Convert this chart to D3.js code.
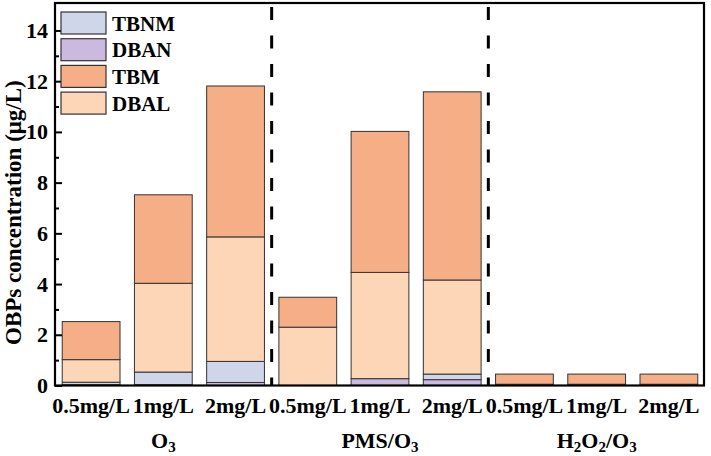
<!DOCTYPE html>
<html>
<head>
<meta charset="utf-8">
<script src="https://cdn.jsdelivr.net/npm/d3@7"></script>
<style>
  html, body { margin: 0; padding: 0; background: #fff; }
  svg { display: block; }
  text { font-family: "Liberation Serif", "Times New Roman", serif; font-weight: bold; fill: #000; }
</style>
</head>
<body>
<svg id="chart" width="711" height="456"></svg>
<script>
// ---- data ----
const categories = ["0.5mg/L", "1mg/L", "2mg/L", "0.5mg/L", "1mg/L", "2mg/L", "0.5mg/L", "1mg/L", "2mg/L"];
const groups = [
  [["O", ""], ["3", "sub"]],
  [["PMS/O", ""], ["3", "sub"]],
  [["H", ""], ["2", "sub"], ["O", ""], ["2", "sub"], ["/O", ""], ["3", "sub"]]
];
const seriesKeys = ["DBAN", "TBNM", "DBAL", "TBM"]; // bottom to top
const DBAN = [0.03, 0.03, 0.12, 0, 0.27, 0.23, 0, 0, 0];
const TBNM = [0.10, 0.50, 0.83, 0, 0, 0.22, 0, 0, 0];
const DBAL = [0.89, 3.50, 4.91, 2.30, 4.19, 3.71, 0.05, 0.05, 0.05];
const TBM  = [1.50, 3.49, 5.95, 1.18, 5.56, 7.42, 0.40, 0.40, 0.40];
const legendOrder = ["TBNM", "DBAN", "TBM", "DBAL"];
const yTicks = [0, 2, 4, 6, 8, 10, 12, 14];
const yMinorTicks = [1, 3, 5, 7, 9, 11, 13];

const colors = { TBNM: "#cfd6e9", DBAN: "#cbb9e0", TBM: "#f5ae86", DBAL: "#fdd6b7" };
const valuesByKey = { DBAN, TBNM, DBAL, TBM };

const table = categories.map((c, i) => {
  const row = { idx: i };
  seriesKeys.forEach(k => row[k] = valuesByKey[k][i]);
  return row;
});

// ---- layout ----
const L = 55, R = 704, T = 4, B = 385.5;
const FONT = "Liberation Serif";
const svg = d3.select("#chart");

const x = d3.scaleBand().domain(d3.range(categories.length)).range([L, R + 1]).paddingInner(0.2).paddingOuter(0.1);
const y = d3.scaleLinear().domain([0, 15]).range([B, B - 15 * 25.36]);

const stack = d3.stack().keys(seriesKeys)(table);

svg.append("g").selectAll("g").data(stack).join("g")
  .attr("fill", d => colors[d.key])
  .selectAll("rect").data(d => d.filter(p => p[1] - p[0] > 0)).join("rect")
  .attr("x", d => x(d.data.idx))
  .attr("width", x.bandwidth())
  .attr("y", d => y(d[1]))
  .attr("height", d => y(d[0]) - y(d[1]))
  .attr("stroke", "#333")
  .attr("stroke-width", 1);

// frame
svg.append("rect")
  .attr("x", L).attr("y", T - 1)
  .attr("width", R - L).attr("height", B - T + 1)
  .attr("fill", "none").attr("stroke", "#000").attr("stroke-width", 2.2);

// dashed separators
[3, 6].forEach(i => {
  const xx = (x(i - 1) + x.bandwidth() + x(i)) / 2;
  svg.append("line")
    .attr("x1", xx).attr("x2", xx)
    .attr("y1", 7).attr("y2", B)
    .attr("stroke", "#000").attr("stroke-width", 3)
    .attr("stroke-dasharray", "13,15.5");
});

// y axis
const yAxis = d3.axisLeft(y).tickValues(yTicks).tickSize(-7).tickPadding(7).tickFormat(d3.format("d"));
const gy = svg.append("g").attr("transform", `translate(${L},0)`).call(yAxis);
gy.select(".domain").remove();
gy.selectAll(".tick line").attr("stroke", "#000").attr("stroke-width", 2);
gy.selectAll(".tick text").attr("font-size", 22).attr("font-family", FONT).attr("font-weight", "bold").attr("fill", "#000");

const yAxisMinor = d3.axisLeft(y).tickValues(yMinorTicks).tickSize(-4).tickFormat("");
const gym = svg.append("g").attr("transform", `translate(${L},0)`).call(yAxisMinor);
gym.select(".domain").remove();
gym.selectAll(".tick line").attr("stroke", "#000").attr("stroke-width", 2);

// x labels
const xAxis = d3.axisBottom(x).tickSize(0).tickPadding(12).tickFormat(i => categories[i]);
const gx = svg.append("g").attr("transform", `translate(0,${B})`).call(xAxis);
gx.select(".domain").remove();
gx.selectAll(".tick text").attr("font-size", 22).attr("font-family", FONT).attr("font-weight", "bold").attr("fill", "#000");

// group labels
groups.forEach((parts, g) => {
  const cx = x(g * 3 + 1) + x.bandwidth() / 2;
  const t = svg.append("text").attr("x", cx).attr("y", 448).attr("text-anchor", "middle").attr("font-size", 22);
  let prev = "";
  parts.forEach(([s, kind]) => {
    if (kind === "sub") {
      t.append("tspan").attr("font-size", 15).attr("dy", 4).text(s);
    } else {
      t.append("tspan").attr("dy", prev === "sub" ? -4 : 0).text(s);
    }
    prev = kind;
  });
});

// y title
svg.append("text")
  .attr("transform", `translate(21,345) rotate(-90)`)
  .attr("text-anchor", "start")
  .attr("font-size", 23)
  .text("OBPs concentration (μg/L)");

// legend
const lg = svg.append("g");
legendOrder.forEach((k, i) => {
  const yy = 12 + i * 26.7;
  lg.append("rect").attr("x", 61).attr("y", yy).attr("width", 45).attr("height", 22)
    .attr("fill", colors[k]).attr("stroke", "#333").attr("stroke-width", 1.2);
  lg.append("text").attr("x", 112).attr("y", yy + 18.5).attr("font-size", 21).text(k);
});
</script>
</body>
</html>
